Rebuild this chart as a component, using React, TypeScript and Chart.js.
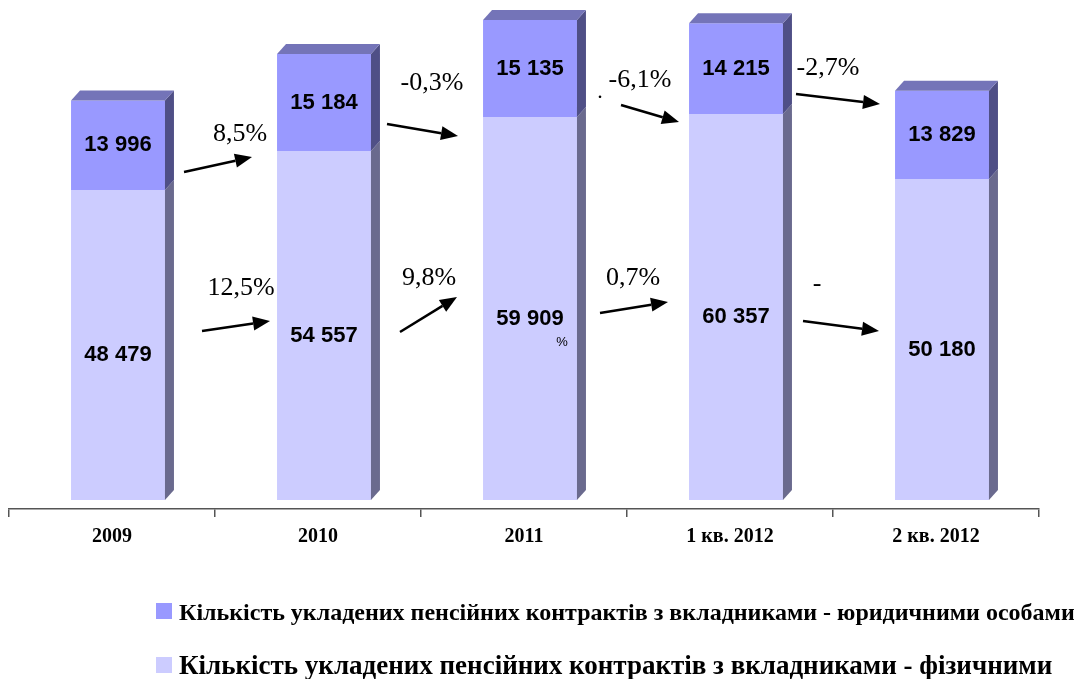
import React, { useEffect, useRef } from 'react';
import { Chart, registerables } from 'chart.js';

Chart.register(...registerables);

const categories = ['2009', '2010', '2011', '1 кв. 2012', '2 кв. 2012'];
const individualContracts = [48479, 54557, 59909, 60357, 50180];
const legalEntityContracts = [13996, 15184, 15135, 14215, 13829];
const legalGrowthLabels = ['8,5%', '-0,3%', '-6,1%', '-2,7%'];
const individualGrowthLabels = ['12,5%', '9,8%', '0,7%', '-'];
const legendLegal = 'Кількість укладених пенсійних контрактів з вкладниками - юридичними особами';
const legendIndividual = 'Кількість укладених пенсійних контрактів з вкладниками - фізичними';

const COLOR_LIGHT = '#CCCCFF';
const COLOR_DARK = '#9999FF';
const SIDE_LIGHT = '#6A6A8E';
const SIDE_DARK = '#4F4F86';
const TOP_DARK = '#7474B8';

const SERIF = "'Liberation Serif', 'Times New Roman', serif";
const SANS = "'Liberation Sans', Arial, sans-serif";

const fmt = (v: number) => String(v).replace(/\B(?=(\d{3})+(?!\d))/g, ' ');

// annotation geometry (arrows between bars), pixel coordinates
const topArrows = [
  [184, 172, 252, 157],
  [387, 124, 458, 136],
  [621, 105, 679, 122],
  [796, 94, 880, 104],
];
const bottomArrows = [
  [202, 331, 270, 321],
  [400, 332, 457, 297],
  [600, 313, 668, 302],
  [803, 321, 879, 331],
];
const topTextPos = [
  [240, 141],
  [432, 90],
  [640, 87],
  [828, 75],
];
const bottomTextPos = [
  [241, 295],
  [429, 285],
  [633, 285],
  [817, 291],
];

const SHIFT = 6;
const DX = 9;
const DY = 10;

function drawArrow(ctx: CanvasRenderingContext2D, x1: number, y1: number, x2: number, y2: number) {
  const ang = Math.atan2(y2 - y1, x2 - x1);
  const headLen = 17;
  const headW = 7;
  const bx = x2 - headLen * Math.cos(ang);
  const by = y2 - headLen * Math.sin(ang);
  ctx.save();
  ctx.strokeStyle = '#000';
  ctx.fillStyle = '#000';
  ctx.lineWidth = 2.5;
  ctx.beginPath();
  ctx.moveTo(x1, y1);
  ctx.lineTo(bx, by);
  ctx.stroke();
  ctx.beginPath();
  ctx.moveTo(x2, y2);
  ctx.lineTo(bx + headW * Math.sin(ang), by - headW * Math.cos(ang));
  ctx.lineTo(bx - headW * Math.sin(ang), by + headW * Math.cos(ang));
  ctx.closePath();
  ctx.fill();
  ctx.restore();
}

const bars3d = {
  id: 'bars3d',
  beforeDatasetsDraw(chart: any) {
    chart.ctx.save();
    chart.ctx.translate(SHIFT, 0);
  },
  afterDatasetsDraw(chart: any) {
    const ctx = chart.ctx as CanvasRenderingContext2D;
    const lower = chart.getDatasetMeta(0).data;
    const upper = chart.getDatasetMeta(1).data;
    const faces = (els: any[], sideColor: string, drawTop: boolean) => {
      els.forEach((el: any) => {
        const p = el.getProps(['x', 'y', 'base', 'width'], true);
        const L = p.x - p.width / 2;
        const R = p.x + p.width / 2;
        const top = Math.min(p.y, p.base);
        const bot = Math.max(p.y, p.base);
        ctx.fillStyle = sideColor;
        ctx.beginPath();
        ctx.moveTo(R, top);
        ctx.lineTo(R + DX, top - DY);
        ctx.lineTo(R + DX, bot - DY);
        ctx.lineTo(R, bot);
        ctx.closePath();
        ctx.fill();
        if (drawTop) {
          ctx.fillStyle = TOP_DARK;
          ctx.beginPath();
          ctx.moveTo(L, top);
          ctx.lineTo(L + DX, top - DY);
          ctx.lineTo(R + DX, top - DY);
          ctx.lineTo(R, top);
          ctx.closePath();
          ctx.fill();
        }
      });
    };
    faces(lower, SIDE_LIGHT, false);
    faces(upper, SIDE_DARK, true);

    // value labels
    ctx.fillStyle = '#000';
    ctx.font = `bold 22px ${SANS}`;
    ctx.textAlign = 'center';
    ctx.textBaseline = 'middle';
    lower.forEach((el: any, i: number) => {
      const p = el.getProps(['x', 'y', 'base'], true);
      ctx.fillText(fmt(individualContracts[i]), p.x, (p.y + p.base) / 2 + 10);
    });
    upper.forEach((el: any, i: number) => {
      const p = el.getProps(['x', 'y', 'base'], true);
      ctx.fillText(fmt(legalEntityContracts[i]), p.x, (p.y + p.base) / 2);
    });
    ctx.restore();
  },
  afterDraw(chart: any) {
    const ctx = chart.ctx as CanvasRenderingContext2D;
    topArrows.forEach((a) => drawArrow(ctx, a[0], a[1], a[2], a[3]));
    bottomArrows.forEach((a) => drawArrow(ctx, a[0], a[1], a[2], a[3]));
    ctx.save();
    ctx.fillStyle = '#000';
    ctx.textAlign = 'center';
    ctx.textBaseline = 'alphabetic';
    ctx.font = `26px ${SERIF}`;
    legalGrowthLabels.forEach((t, i) => ctx.fillText(t, topTextPos[i][0], topTextPos[i][1]));
    individualGrowthLabels.forEach((t, i) => ctx.fillText(t, bottomTextPos[i][0], bottomTextPos[i][1]));
    ctx.font = `22px ${SERIF}`;
    ctx.fillText('.', 600, 98);
    ctx.font = `13px ${SANS}`;
    ctx.fillText('%', 562, 346);
    ctx.restore();
  },
};

export default function App() {
  const ref = useRef<HTMLCanvasElement>(null);
  useEffect(() => {
    if (!ref.current) return;
    const chart = new Chart(ref.current, {
      type: 'bar',
      data: {
        labels: categories,
        datasets: [
          {
            label: legendIndividual,
            data: individualContracts,
            backgroundColor: COLOR_LIGHT,
            borderWidth: 0,
          },
          {
            label: legendLegal,
            data: legalEntityContracts,
            backgroundColor: COLOR_DARK,
            borderWidth: 0,
          },
        ],
      },
      options: {
        responsive: false,
        animation: false,
        layout: { padding: { left: 9, right: 35, top: 14, bottom: 120 } },
        plugins: {
          legend: { display: false },
          tooltip: { enabled: false },
        },
        datasets: {
          bar: { categoryPercentage: 1, barPercentage: 0.456 },
        },
        scales: {
          x: {
            stacked: true,
            afterFit: (s: any) => {
              s.height = 50;
            },
            grid: {
              offset: true,
              drawOnChartArea: false,
              drawTicks: true,
              tickLength: 8,
              color: '#555',
              lineWidth: 1.5,
            },
            border: { display: true, color: '#555', width: 1.5 },
            ticks: {
              color: '#000',
              padding: 8,
              font: { family: SERIF, size: 20, weight: 'bold' },
            },
          },
          y: {
            stacked: true,
            display: false,
            min: -1407,
            max: 76000,
          },
        },
      },
      plugins: [bars3d],
    });
    return () => chart.destroy();
  }, []);

  const sq = (top: number, color: string): React.CSSProperties => ({
    position: 'absolute',
    left: 156,
    top,
    width: 16,
    height: 16,
    background: color,
  });
  const txt = (top: number, size: number): React.CSSProperties => ({
    position: 'absolute',
    left: 179,
    top,
    fontFamily: SERIF,
    fontWeight: 'bold',
    fontSize: size,
    lineHeight: `${size}px`,
    whiteSpace: 'nowrap',
    color: '#000',
  });

  return (
    <div style={{ position: 'absolute', left: 0, top: 0, width: 1074, height: 679, background: '#fff', overflow: 'hidden' }}>
      <canvas ref={ref} width={1074} height={679} style={{ position: 'absolute', left: 0, top: 0 }} />
      <div style={sq(603, COLOR_DARK)} />
      <div style={txt(600, 24)}>{legendLegal}</div>
      <div style={sq(657, COLOR_LIGHT)} />
      <div style={txt(652, 27)}>{legendIndividual}</div>
    </div>
  );
}
